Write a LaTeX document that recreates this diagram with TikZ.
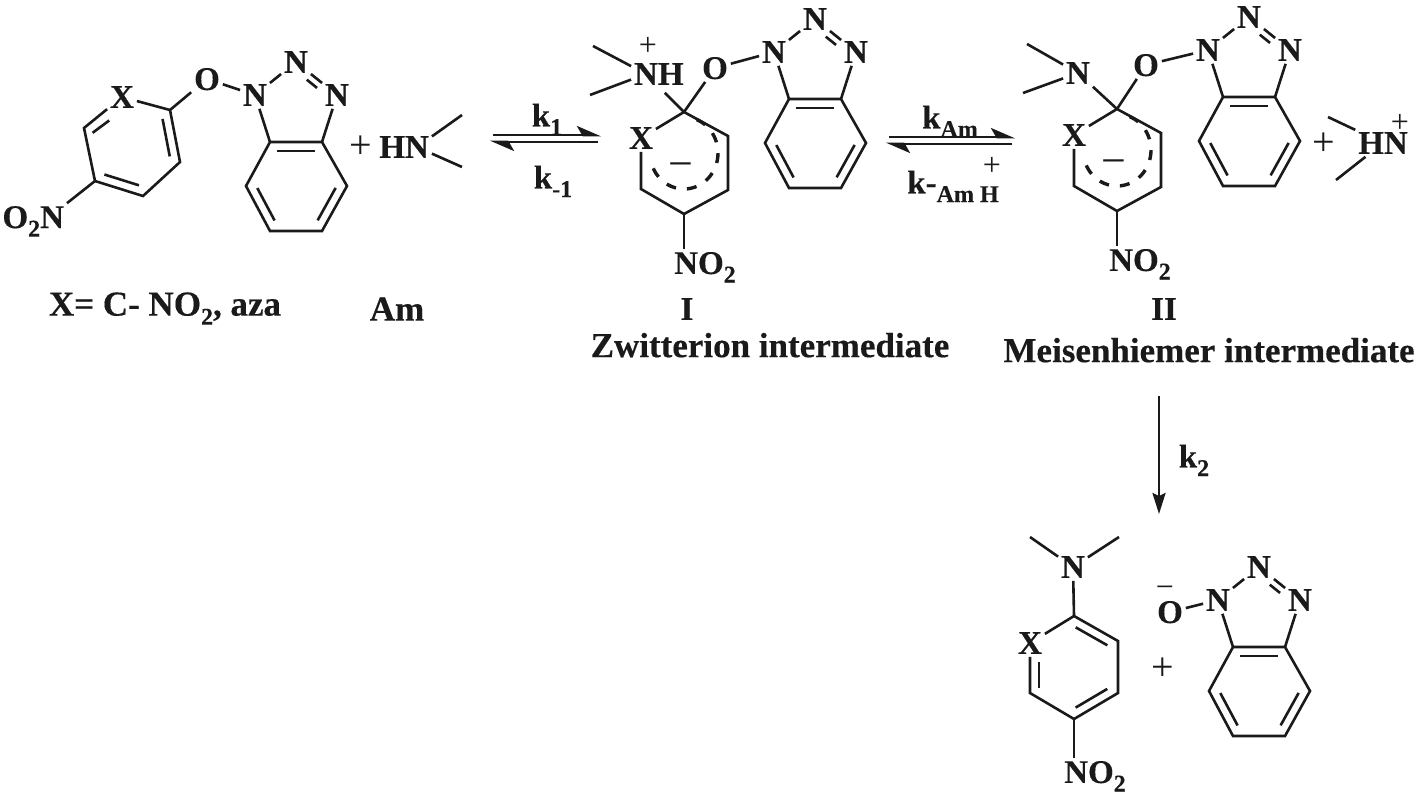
\documentclass[tikz,border=0pt]{standalone}
\usepackage{fontspec}
\setmainfont{Liberation Serif}[BoldFeatures={FakeBold=0.35}]
\usetikzlibrary{arrows.meta, calc, positioning}
\definecolor{inkblack}{HTML}{1A1A1A}

\newcommand{\lowsub}[1]{\raisebox{-0.26em}{\fontsize{24}{24}\selectfont #1}}

% second line of a double bond, on the ring side
\newcommand{\innerbond}[2]{\draw[bond] ($(#1)!0.14!(#2)!9pt!-90:(#2)$) -- ($(#2)!0.14!(#1)!9pt!90:(#1)$);}

% benzotriazole: prefix, shift x, shift y
\newcommand{\triazole}[3]{%
  \begin{scope}[shift={(#2,#3)}]
    \node[atom] (#1n1) at (255,95) {N};
    \node[atom] (#1n2) at (296,62) {N};
    \node[atom] (#1n3) at (337,95) {N};
    \coordinate (#1c1) at (270,142);
    \coordinate (#1c2) at (322,142);
    \coordinate (#1c3) at (347,186);
    \coordinate (#1c4) at (322,231);
    \coordinate (#1c5) at (270,231);
    \coordinate (#1c6) at (246,186);
    \draw[bond] (#1n1) -- (#1n2);
    \draw[bond] (#1n2) -- (#1n3);
    \draw[bond] ($(#1n2)!0.37!(#1n3)!7pt!-90:(#1n3)$) -- ($(#1n2)!0.62!(#1n3)!7pt!-90:(#1n3)$);
    \draw[bond] (#1n1) -- (#1c1);
    \draw[bond] (#1n3) -- (#1c2);
    \draw[bond] (#1c1) -- (#1c2) -- (#1c3) -- (#1c4) -- (#1c5) -- (#1c6) -- cycle;
    \innerbond{#1c1}{#1c2}
    \innerbond{#1c3}{#1c4}
    \innerbond{#1c5}{#1c6}
  \end{scope}}

% anionic ring with dashed delocalisation: prefix, shift x, shift y
\newcommand{\anionring}[3]{%
  \begin{scope}[shift={(#2,#3)}]
    \coordinate (#1r1) at (684,112);
    \coordinate (#1r2) at (728,136);
    \coordinate (#1r3) at (728,190);
    \coordinate (#1r4) at (684,214);
    \coordinate (#1r5) at (641,189);
    \node[atom] (#1x) at (641,138) {X};
    \coordinate (#1mid) at (684,153);
    \draw[bond] (#1x) -- (#1r1) -- (#1r2) -- (#1r3) -- (#1r4) -- (#1r5) -- (#1x);
    \draw[delocal] ($(#1mid)+(68:34pt and 36pt)$) arc[start angle=68, end angle=-165, x radius=34pt, y radius=36pt];
    \node[ringminus] (#1minus) at (681,171) {−};
  \end{scope}}

\begin{document}
\begin{tikzpicture}[
    x=1pt, y=-1pt,
    atom/.style={font=\fontsize{33}{33}\selectfont\bfseries, text=inkblack, inner sep=0pt, outer sep=3pt, text depth=0pt},
    caption/.style={font=\fontsize{35}{35}\selectfont\bfseries, text=inkblack, inner sep=0pt, text depth=0pt},
    charge/.style={font=\fontsize{32}{32}\selectfont, text=inkblack, inner sep=0pt, text depth=0pt},
    sign/.style={font=\fontsize{40}{40}\selectfont, text=inkblack, inner sep=0pt, text depth=0pt},
    ringminus/.style={font=\fontsize{44}{44}\selectfont, text=inkblack, inner sep=0pt, text depth=0pt},
    bond/.style={draw=inkblack, line width=2.6pt},
    delocal/.style={draw=inkblack, line width=3.4pt, dash pattern=on 10pt off 11pt},
    equil/.style={draw=inkblack, line width=2.6pt, -{Stealth[harpoon, length=21pt, width=18pt, inset=5pt]}},
    forward/.style={draw=inkblack, line width=2.6pt, -{Stealth[length=21pt, width=13pt, inset=3pt]}}
  ]
  \useasboundingbox (0,0) rectangle (1420,804);

  % Substrate
  \triazole{a}{0}{0}
  \node[atom] (ax) at (122,97) {X};
  \node[atom] (ao) at (207,79) {O};
  \node[atom, anchor=base east] (ano) at (67,228) {O\lowsub{2}N};
  \coordinate (ar1) at (170,110);
  \coordinate (ar2) at (180,162);
  \coordinate (ar3) at (143,196);
  \coordinate (ar4) at (95,181);
  \coordinate (ar5) at (84,128);
  \draw[bond] (ax) -- (ar1) -- (ar2) -- (ar3) -- (ar4) -- (ar5) -- (ax);
  \draw[bond] (ar1) -- (ao);
  \draw[bond] (ao) -- (an1);
  \draw[bond] (ar4) -- (ano.north east);
  \innerbond{ar1}{ar2}
  \innerbond{ar3}{ar4}
  \innerbond{ar5}{ax.south west}

  % Amine
  \node[sign] (aplus) at (361,147) {+};
  \node[atom] (am) at (417,147) {N};
  \node[atom, left=-3pt of am, outer sep=0pt] (amh) {H};
  \coordinate (amt) at (462,115);
  \coordinate (amb) at (462,167);
  \draw[bond] (am) -- (amt);
  \draw[bond] (am) -- (amb);

  % Captions under the substrate
  \node[caption] (xlabel) at (165,304) {X= C- NO\lowsub{2}, aza};
  \node[caption] (amlabel) at (397,309) {Am};

  % First equilibrium
  \coordinate (e1a) at (493,135);
  \coordinate (e1b) at (601,135);
  \coordinate (e1c) at (598,142);
  \coordinate (e1d) at (490,142);
  \draw[equil] (e1a) -- (e1b);
  \draw[equil] (e1c) -- (e1d);
  \node[atom] (k1) at (547,115) {k\lowsub{1}};
  \node[atom] (km1) at (553,177) {k\lowsub{-1}};

  % Zwitterion
  \anionring{b}{0}{0}
  \triazole{b}{519}{-43}
  \node[atom] (bn) at (646,74) {N};
  \node[atom, right=-3pt of bn, outer sep=0pt] (bh) {H};
  \node[charge] (bplus) at (648,46) {+};
  \node[atom] (bo) at (715,68) {O};
  \node[atom] (bno) at (705,263) {NO\lowsub{2}};
  \coordinate (bmt) at (593,46);
  \coordinate (bmb) at (590,95);
  \draw[bond] (bn) -- (bmt);
  \draw[bond] (bn) -- (bmb);
  \draw[bond, shorten <=7pt] (bn) -- (br1);
  \draw[bond] (bo) -- (br1);
  \draw[bond] (bo) -- (bn1);
  \draw[bond] (br4) -- (br4 |- bno.north);
  \node[atom] (blabel) at (687,309) {I};
  \node[caption] (bname) at (770,345) {Zwitterion intermediate};

  % Second equilibrium
  \coordinate (e2a) at (889,137);
  \coordinate (e2b) at (1015,137);
  \coordinate (e2c) at (1012,144);
  \coordinate (e2d) at (886,144);
  \draw[equil] (e2a) -- (e2b);
  \draw[equil] (e2c) -- (e2d);
  \node[atom] (kam) at (950,117) {k\lowsub{Am}};
  \node[atom] (kamh) at (953,182) {k-\lowsub{Am H}};
  \node[charge] (kplus) at (992,166) {+};

  % Meisenheimer complex
  \anionring{c}{433}{-3}
  \triazole{c}{953}{-45}
  \node[atom] (cn) at (1078,73) {N};
  \node[atom] (co) at (1146,65) {O};
  \node[atom] (cno) at (1140,260) {NO\lowsub{2}};
  \coordinate (cmt) at (1027,44);
  \coordinate (cmb) at (1023,93);
  \draw[bond] (cn) -- (cmt);
  \draw[bond] (cn) -- (cmb);
  \draw[bond] (cn) -- (cr1);
  \draw[bond] (co) -- (cr1);
  \draw[bond] (co) -- (cn1);
  \draw[bond] (cr4) -- (cr4 |- cno.north);
  \node[atom] (clabel) at (1164,309) {II};
  \node[caption] (cname) at (1209,350) {Meisenhiemer intermediate};

  % Ammonium
  \node[sign] (cplus) at (1324,144) {+};
  \node[atom] (dn) at (1383,143) {HN};
  \node[charge] (dplus) at (1400,123) {+};
  \coordinate (dmt) at (1328,117);
  \coordinate (dmb) at (1336,180);
  \draw[bond] (dn) -- (dmt);
  \draw[bond] (dn) -- (dmb);

  % Irreversible step
  \coordinate (s1) at (1159,396);
  \coordinate (s2) at (1159,514);
  \draw[forward] (s1) -- (s2);
  \node[atom] (k2) at (1194,456) {k\lowsub{2}};

  % Products
  \node[atom] (pn) at (1073,567) {N};
  \node[atom] (px) at (1030,643) {X};
  \node[atom] (pno) at (1095,772) {NO\lowsub{2}};
  \coordinate (pmt) at (1030,537);
  \coordinate (pmb) at (1119,537);
  \coordinate (pr1) at (1074,616);
  \coordinate (pr2) at (1118,641);
  \coordinate (pr3) at (1118,693);
  \coordinate (pr4) at (1074,719);
  \coordinate (pr5) at (1030,693);
  \draw[bond] (pn) -- (pmt);
  \draw[bond] (pn) -- (pmb);
  \draw[bond] (pn) -- (pr1);
  \draw[bond] (px) -- (pr1) -- (pr2) -- (pr3) -- (pr4) -- (pr5) -- (px);
  \draw[bond] (pr4) -- (pr4 |- pno.north);
  \innerbond{pr1}{pr2}
  \innerbond{pr3}{pr4}
  \innerbond{pr5}{px.south}
  \node[sign] (pplus) at (1163,669) {+};

  \triazole{q}{963}{505}
  \node[atom] (qo) at (1170,612) {O};
  \node[charge] (qminus) at (1165,592) {−};
  \draw[bond] (qo) -- (qn1);
\end{tikzpicture}
\end{document}
